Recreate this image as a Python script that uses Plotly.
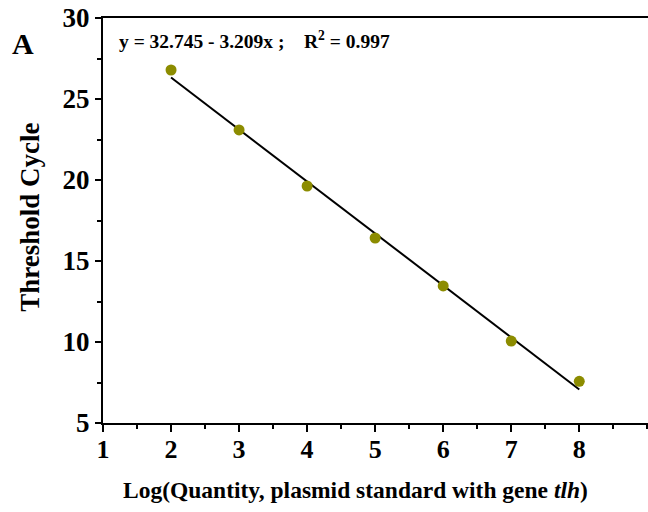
import plotly.graph_objects as go

log_qty = [2, 3, 4, 5, 6, 7, 8]
threshold_cycle = [26.79, 23.09, 19.63, 16.42, 13.46, 10.06, 7.57]
fit_x = [2, 8]
fit_y = [26.327, 7.073]
x_ticks = [1, 2, 3, 4, 5, 6, 7, 8]
y_ticks = [5, 10, 15, 20, 25, 30]

FONT = "Liberation Serif"

fig = go.Figure()
fig.add_trace(go.Scatter(x=fit_x, y=fit_y, mode="lines",
                         line=dict(color="black", width=2), showlegend=False))
fig.add_trace(go.Scatter(x=log_qty, y=threshold_cycle, mode="markers",
                         marker=dict(color="#8c8c00", size=11), showlegend=False))

fig.update_layout(
    width=648, height=512,
    margin=dict(l=103, r=0, t=18, b=89, autoexpand=False),
    plot_bgcolor="white", paper_bgcolor="white",
    font=dict(family=FONT, color="black"),
    xaxis=dict(range=[1, 9.01], tickvals=x_ticks, ticks="outside", ticklen=7, tickwidth=2,
               tickcolor="black", ticklabelstandoff=-5,
               showline=True, linewidth=2, linecolor="black", mirror=True,
               showgrid=False, zeroline=False, automargin=False,
               tickfont=dict(family=FONT, size=26, color="black", weight="bold"),
               minor=dict(dtick=0.5, ticks="outside", ticklen=4, tickwidth=2, tickcolor="black", showgrid=False)),
    yaxis=dict(range=[5, 30], tickvals=y_ticks, ticks="outside", ticklen=6, tickwidth=2,
               tickcolor="black", ticklabeloverflow="allow",
               showline=True, linewidth=2, linecolor="black", mirror=False,
               showgrid=False, zeroline=False, automargin=False,
               tickfont=dict(family=FONT, size=27, color="black", weight="bold"),
               minor=dict(dtick=2.5, ticks="outside", ticklen=4, tickwidth=2, tickcolor="black", showgrid=False)),
)

fig.add_annotation(xref="paper", yref="paper", x=0.464, y=-0.165, xanchor="center", yanchor="middle",
                   text="<b>Log(Quantity, plasmid standard with gene <i>tlh</i>)</b>",
                   showarrow=False, font=dict(family=FONT, size=23.5, color="black"))
fig.add_annotation(xref="paper", yref="paper", x=-0.134, y=0.509, xanchor="center", yanchor="middle",
                   text="<b>Threshold Cycle</b>", textangle=-90,
                   showarrow=False, font=dict(family=FONT, size=27, color="black"))
fig.add_annotation(xref="paper", yref="paper", x=0.0257, y=0.945, xanchor="left", yanchor="middle",
                   text="<b>y = 32.745 - 3.209x ;&nbsp;&nbsp;&nbsp;&nbsp;R<sup>2</sup> = 0.997</b>",
                   showarrow=False, font=dict(family=FONT, size=19.5, color="black"))
fig.add_annotation(xref="paper", yref="paper", x=-0.147, y=0.936, xanchor="center", yanchor="middle",
                   text="<b>A</b>", showarrow=False, font=dict(family=FONT, size=30, color="black"))

fig.write_html("out.html", config={"displayModeBar": False},
               post_script="document.body.style.margin='0';")
